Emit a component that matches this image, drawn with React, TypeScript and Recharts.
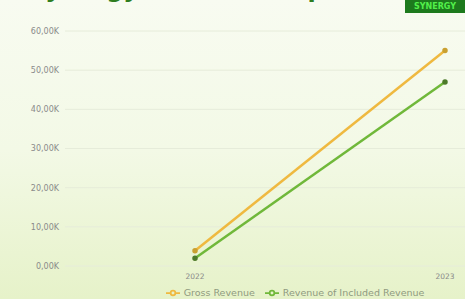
import React from "react";
import { LineChart, Line, XAxis, YAxis, CartesianGrid, Legend } from "recharts";

const years = ["2022", "2023"];
const grossRevenue = [3900, 55000];
const includedRevenue = [2000, 47000];
const yTicks = [0, 10000, 20000, 30000, 40000, 50000, 60000];
const seriesNames = ["Gross Revenue", "Revenue of Included Revenue"];

const data = years.map((y, i) => ({
  year: y,
  gross: grossRevenue[i],
  included: includedRevenue[i],
}));

const fmt = (v: number) => (v / 1000).toFixed(2).replace(".", ",") + "K";

export default function App() {
  return (
    <div
      style={{
        position: "absolute",
        top: 0,
        left: 0,
        width: 465,
        height: 299,
        overflow: "hidden",
        background: "linear-gradient(180deg, #f8fbf1 0%, #f3f9e6 50%, #e6f2c9 100%)",
        fontFamily: "'DejaVu Sans', sans-serif",
      }}
    >
      <div
        style={{
          position: "absolute",
          top: -23,
          left: 28,
          fontSize: 24,
          lineHeight: "24px",
          fontWeight: 700,
          color: "#2f7d1f",
          whiteSpace: "nowrap",
        }}
      >
        Synergy Revenue Report
      </div>
      <div
        style={{
          position: "absolute",
          top: 0,
          left: 405,
          width: 60,
          height: 13,
          background: "#1d7a1d",
          color: "#52ef4a",
          fontSize: 8,
          fontWeight: 700,
          lineHeight: "13px",
          textAlign: "center",
        }}
      >
        SYNERGY
      </div>
      <div style={{ position: "absolute", top: 0, left: 0 }}>
        <LineChart
          width={610}
          height={299}
          data={data}
          margin={{ top: 31, right: 10, bottom: 1, left: 0 }}
        >
          <CartesianGrid vertical={false} stroke="#e6ecda" strokeWidth={1} />
          <XAxis
            dataKey="year"
            axisLine={false}
            tickLine={false}
            padding={{ left: 130, right: 155 }}
            tick={{ fontSize: 7.5, fill: "#8a8a8a" }}
            tickMargin={2}
            height={20}
          />
          <YAxis
            domain={[0, 60000]}
            ticks={yTicks}
            tickFormatter={fmt}
            axisLine={false}
            tickLine={false}
            width={65}
            tick={{ fontSize: 8, fill: "#8a8a8a" }}
            tickMargin={0}
          />
          <Legend
            verticalAlign="bottom"
            height={12}
            iconType="line"
            iconSize={14}
            wrapperStyle={{ fontSize: 9.5 }}
            formatter={(value: string) => <span style={{ color: "#8f9a80" }}>{value}</span>}
          />
          <Line
            type="linear"
            dataKey="gross"
            name={seriesNames[0]}
            stroke="#efb940"
            strokeWidth={2.5}
            dot={{ r: 1.5, fill: "#c9a030", stroke: "#c9a030" }}
            isAnimationActive={false}
          />
          <Line
            type="linear"
            dataKey="included"
            name={seriesNames[1]}
            stroke="#70b83a"
            strokeWidth={2.5}
            dot={{ r: 1.5, fill: "#4d7a2a", stroke: "#4d7a2a" }}
            isAnimationActive={false}
          />
        </LineChart>
      </div>
    </div>
  );
}
